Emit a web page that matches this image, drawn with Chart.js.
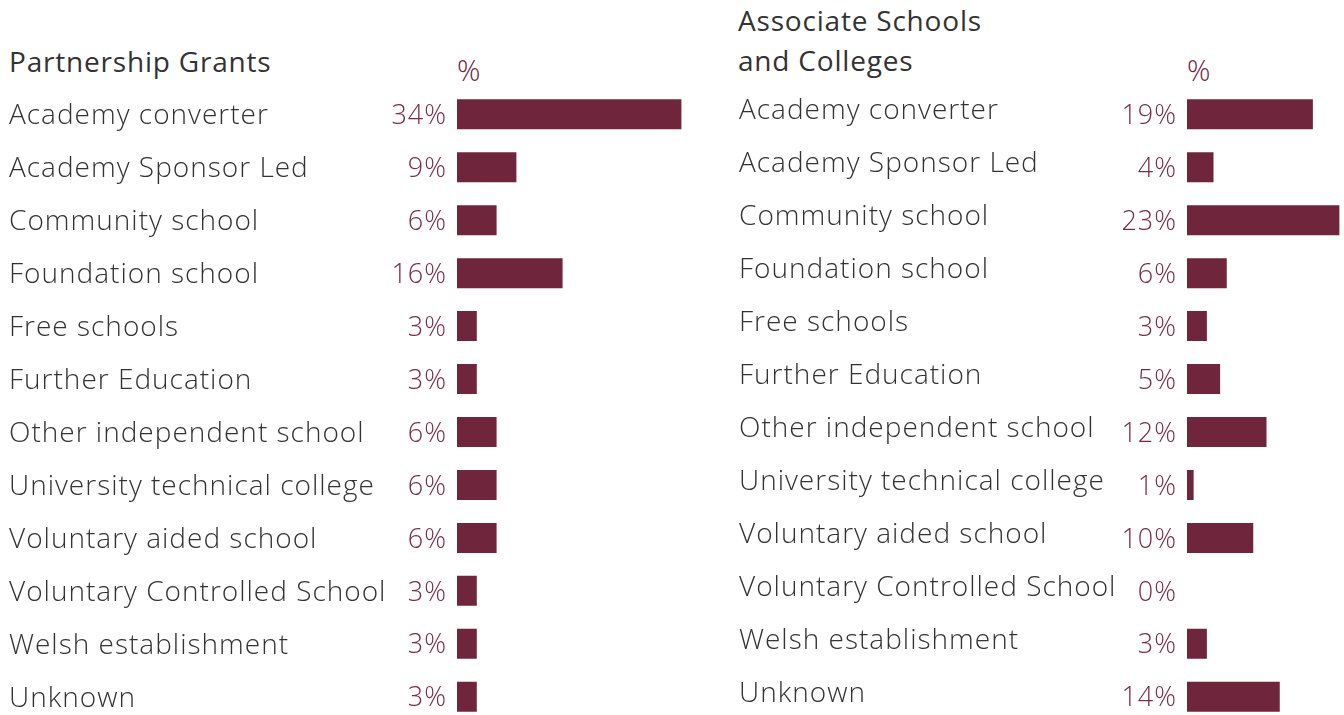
<!DOCTYPE html>
<html>
<head>
<meta charset="utf-8">
<script src="https://cdn.jsdelivr.net/npm/chart.js@4/dist/chart.umd.min.js"></script>
<style>
  html, body { margin: 0; padding: 0; background: #fff; }
  body { width: 1344px; height: 715px; overflow: hidden; position: relative; font-family: "Open Sans", sans-serif; }
  .title { position: absolute; color: #333; font-size: 28px; line-height: 40px; font-weight: 400; letter-spacing: 0.8px; }
  .pct-head { position: absolute; color: #6f253c; font-size: 29px; line-height: 30px; font-weight: 300; }
  .panel { position: absolute; }
</style>
</head>
<body>
<div class="title" style="left:9px; top:41px;">Partnership Grants</div>
<div class="pct-head" style="left:457px; top:55px;">%</div>
<div class="title" style="left:738px; top:0px;">Associate Schools<br>and Colleges</div>
<div class="pct-head" style="left:1187px; top:55px;">%</div>

<div class="panel" style="left:0; top:68px; width:721px; height:675px;"><canvas id="chart-partnership"></canvas></div>
<div class="panel" style="left:730px; top:68px; width:616px; height:675px;"><canvas id="chart-associate"></canvas></div>

<script>
const BAR_COLOR = '#6f253c';
const VALUE_COLOR = '#7a2c45';
const LABEL_COLOR = '#333333';
const FONT = '"Open Sans", sans-serif';

const categories = [
  'Academy converter',
  'Academy Sponsor Led',
  'Community school',
  'Foundation school',
  'Free schools',
  'Further Education',
  'Other independent school',
  'University technical college',
  'Voluntary aided school',
  'Voluntary Controlled School',
  'Welsh establishment',
  'Unknown',
];

const partnershipValues = [34, 9, 6, 16, 3, 3, 6, 6, 6, 3, 3, 3];
const associateValues = [19, 4, 23, 6, 3, 5, 12, 1, 10, 0, 3, 14];

Chart.defaults.font.family = FONT;

// the reference face is wider than Open Sans, so open the letters up a bit
const wideText = {
  id: 'wideText',
  beforeDraw(chart) { chart.ctx.letterSpacing = '1px'; },
  afterDraw(chart) { chart.ctx.letterSpacing = '0px'; },
};

// percentage text to the left of each bar
const valueLabels = {
  id: 'valueLabels',
  afterDatasetsDraw(chart) {
    const { ctx, chartArea } = chart;
    const meta = chart.getDatasetMeta(0);
    const data = chart.data.datasets[0].data;
    ctx.save();
    ctx.font = '300 27px ' + FONT;
    ctx.letterSpacing = '1px';
    ctx.fillStyle = VALUE_COLOR;
    ctx.textAlign = 'right';
    ctx.textBaseline = 'middle';
    meta.data.forEach((bar, i) => {
      ctx.fillText(`${data[i]}%`, chartArea.left - 10, bar.y + 2);
    });
    ctx.restore();
  },
};

function makeChart(id, values, opts) {
  return new Chart(document.getElementById(id), {
    type: 'bar',
    data: {
      labels: categories,
      datasets: [{
        data: values,
        backgroundColor: BAR_COLOR,
        borderWidth: 0,
        inflateAmount: 0,
        barThickness: 30,
      }],
    },
    plugins: [wideText, valueLabels],
    options: {
      indexAxis: 'y',
      responsive: true,
      maintainAspectRatio: false,
      animation: false,
      layout: { padding: { left: opts.padLeft, right: 0, top: 0, bottom: 0 } },
      plugins: { legend: { display: false }, tooltip: { enabled: false } },
      scales: {
        x: { display: false, min: 0, max: opts.max },
        y: {
          grid: { display: false },
          border: { display: false },
          afterFit(scale) { scale.width = opts.labelWidth; },
          ticks: {
            crossAlign: 'far',
            color: LABEL_COLOR,
            font: { size: 28, weight: 300 },
            labelOffset: opts.labelOffset,
            autoSkip: false,
          },
        },
      },
    },
  });
}

makeChart('chart-partnership', partnershipValues, { padLeft: 9, labelWidth: 448, max: 40, labelOffset: 2 });
makeChart('chart-associate', associateValues, { padLeft: 9, labelWidth: 448, max: 24, labelOffset: -3 });
</script>
</body>
</html>
